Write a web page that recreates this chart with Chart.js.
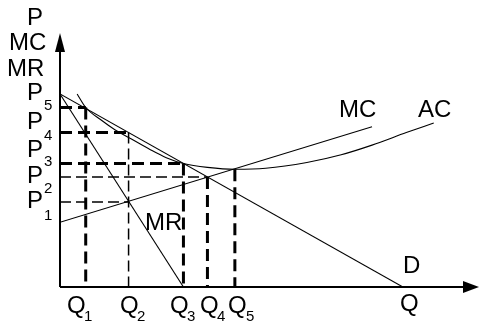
<!DOCTYPE html>
<html>
<head>
<meta charset="utf-8">
<script src="https://cdn.jsdelivr.net/npm/chart.js@4/dist/chart.umd.min.js"></script>
<style>
  html, body { margin: 0; padding: 0; background: #fff; }
  #wrap { width: 479px; height: 325px; }
</style>
</head>
<body>
<div id="wrap"><canvas id="chart" width="479" height="325"></canvas></div>
<script>
// quantity levels Q1..Q5 and price levels P1..P5
const qLevels = [7.5, 20, 36, 43, 51];
const pLevels = [44, 57, 64, 80, 93];

// curves
const demandQ = [0, 100];
const demandP = [100, 0];
const mrQ = [0, 36];
const mrP = [100, 0];
const mcQ = [0, 91];
const mcP = [33.5, 83];
const acQ = [5, 7.5, 12, 16, 20, 26, 31, 36, 43, 51, 60, 72, 82, 91, 101, 109];
const acP = [100, 93, 86.5, 81.5, 77.5, 71.5, 67, 64, 62, 61, 61.5, 64.5, 68.5, 73.5, 80, 85];

const [Q1, Q2, Q3, Q4, Q5] = qLevels;
const [P1, P2, P3, P4, P5] = pLevels;
const acAtQ5 = acP[acQ.indexOf(Q5)];

const pts = (xs, ys) => xs.map((x, i) => ({ x: x, y: ys[i] }));
const seg = (x1, y1, x2, y2) => [{ x: x1, y: y1 }, { x: x2, y: y2 }];

const curve = (data, extra) => Object.assign({
    data: data, showLine: true, borderColor: '#000', borderWidth: 1.1,
    pointRadius: 0, fill: false
}, extra || {});
const thick = data => curve(data, { borderWidth: 3, borderDash: [12, 6] });
const thin = data => curve(data, { borderWidth: 1.5, borderDash: [11, 5] });

const datasets = [
    curve(pts(demandQ, demandP)),
    curve(pts(mrQ, mrP)),
    curve(pts(mcQ, mcP)),
    curve(pts(acQ, acP), { cubicInterpolationMode: 'monotone' }),
    thick(seg(0, P5, Q1, P5)),
    thick(seg(Q1, P5, Q1, 0)),
    thick(seg(0, P4, Q2, P4)),
    thin(seg(Q2, P4, Q2, 0)),
    thick(seg(0, P3, Q3, P3)),
    thick(seg(Q3, P3, Q3, 0)),
    thin(seg(0, P2, Q4, P2)),
    thick(seg(Q4, P2, Q4, 0)),
    thin(seg(0, P1, Q2, P1)),
    thick(seg(Q5, acAtQ5, Q5, 0))
];

// text labels: [main, subscript, x, baseline, subX, subBaseline]
const labels = [
    ['P', '', 27, 25], ['MC', '', 9, 50], ['MR', '', 7, 76],
    ['P', '5', 27, 100, 44, 110], ['P', '4', 27, 129, 44, 140],
    ['P', '3', 27, 157, 44, 166], ['P', '2', 27, 183, 44, 193],
    ['P', '1', 27, 208, 44, 220],
    ['Q', '1', 67, 313, 84, 321], ['Q', '2', 120, 313, 137, 321],
    ['Q', '3', 170, 313, 187, 321], ['Q', '4', 200, 313, 217, 321],
    ['Q', '5', 228, 313, 246, 321],
    ['Q', '', 400, 311], ['D', '', 403, 273],
    ['MC', '', 339, 117], ['AC', '', 418, 117], ['MR', '', 145, 230]
];

const sketchPlugin = {
    id: 'sketch',
    afterDraw(chart) {
        const c = chart.ctx, xs = chart.scales.x, ys = chart.scales.y;
        const x0 = xs.getPixelForValue(0), y0 = ys.getPixelForValue(0);
        const top = chart.chartArea.top, right = chart.chartArea.right;
        c.save();
        c.strokeStyle = '#000';
        c.fillStyle = '#000';
        c.lineWidth = 2;
        c.beginPath();
        c.moveTo(x0, y0); c.lineTo(x0, top + 6);
        c.moveTo(x0, y0); c.lineTo(right - 6, y0);
        c.stroke();
        c.beginPath();
        c.moveTo(x0, top); c.lineTo(x0 - 5, top + 19); c.lineTo(x0 + 5, top + 19);
        c.closePath(); c.fill();
        c.beginPath();
        c.moveTo(right, y0); c.lineTo(right - 16, y0 - 6); c.lineTo(right - 16, y0 + 6);
        c.closePath(); c.fill();

        c.textBaseline = 'alphabetic';
        labels.forEach(l => {
            c.font = '24px "Liberation Sans", Arial, sans-serif';
            c.fillText(l[0], l[2], l[3]);
            if (l[1]) {
                c.font = '15px "Liberation Sans", Arial, sans-serif';
                c.fillText(l[1], l[4], l[5]);
            }
        });
        c.restore();
    }
};

new Chart(document.getElementById('chart').getContext('2d'), {
    type: 'scatter',
    data: { datasets: datasets },
    options: {
        responsive: false,
        animation: false,
        layout: { padding: { left: 60, right: 0, top: 33, bottom: 38 } },
        scales: {
            x: { type: 'linear', min: 0, max: 122.2, display: false },
            y: { type: 'linear', min: 0, max: 131.6, display: false }
        },
        plugins: {
            legend: { display: false },
            tooltip: { enabled: false }
        }
    },
    plugins: [sketchPlugin]
});
</script>
</body>
</html>
